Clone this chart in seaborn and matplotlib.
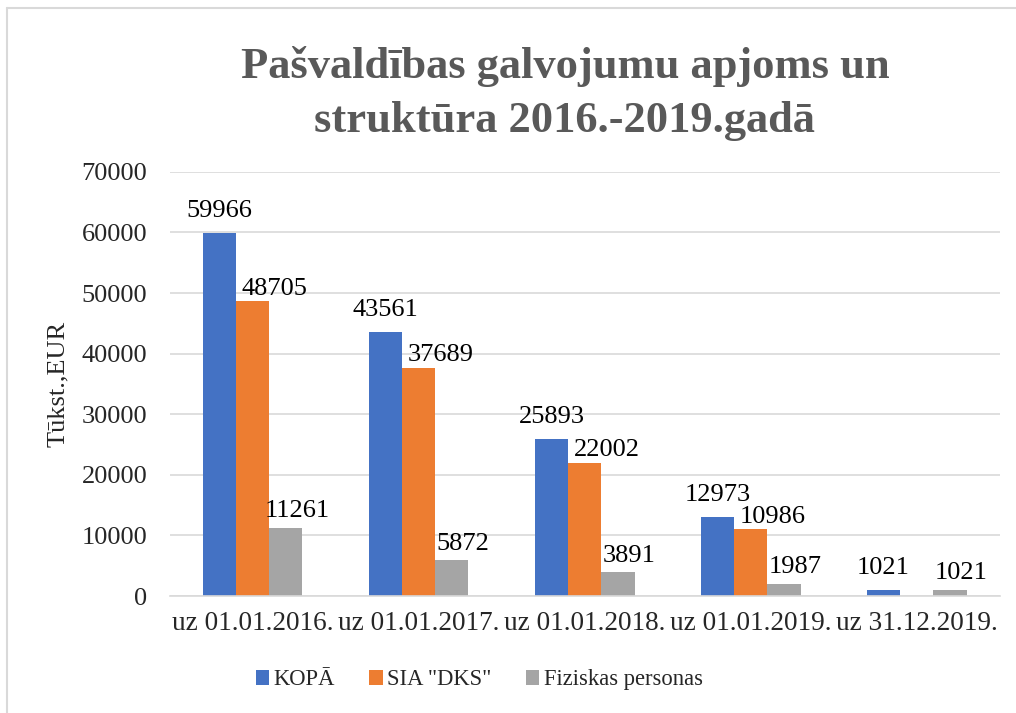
import matplotlib
matplotlib.use("Agg")
import matplotlib.pyplot as plt
import seaborn as sns
import pandas as pd
import numpy as np
from matplotlib.lines import Line2D

categories = ["uz 01.01.2016.", "uz 01.01.2017.", "uz 01.01.2018.", "uz 01.01.2019.", "uz 31.12.2019."]
series_names = ["KOPĀ", 'SIA "DKS"', "Fiziskas personas"]
kopa = [59966, 43561, 25893, 12973, 1021]
sia_dks = [48705, 37689, 22002, 10986, np.nan]
fiziskas = [11261, 5872, 3891, 1987, 1021]
colors = ["#4472C4", "#ED7D31", "#A5A5A5"]
yticks = [0, 10000, 20000, 30000, 40000, 50000, 60000, 70000]

title = "Pašvaldības galvojumu apjoms un\nstruktūra 2016.-2019.gadā"
ylabel = "Tūkst.,EUR"

rows = []
for name, vals in zip(series_names, [kopa, sia_dks, fiziskas]):
    for c, v in zip(categories, vals):
        rows.append({"cat": c, "series": name, "value": v})
df = pd.DataFrame(rows)

sns.set_theme(style="white")
plt.rcParams["font.family"] = ["Liberation Serif", "DejaVu Serif"]

fig = plt.figure(figsize=(10.16, 7.13), dpi=100)
ax = fig.add_axes([0.167, 0.164, 0.817, 0.595])

sns.barplot(data=df, x="cat", y="value", hue="series", order=categories,
            hue_order=series_names, palette=colors, width=0.6, ax=ax,
            saturation=1, errorbar=None, linewidth=0)

ax.set_ylim(0, 70000)
ax.set_yticks(yticks)
ax.set_yticklabels([str(t) for t in yticks], fontsize=19)
ax.tick_params(axis="x", labelsize=19.6, length=0, pad=11)
ax.tick_params(axis="y", length=0, pad=16)
ax.grid(axis="y", color="#D9D9D9", linewidth=1.2)
ax.set_axisbelow(True)
for s in ["top", "right", "left"]:
    ax.spines[s].set_visible(False)
ax.spines["bottom"].set_color("#D9D9D9")
ax.spines["bottom"].set_linewidth(1.2)
ax.set_xlabel("")
ax.set_ylabel(ylabel, fontsize=19, labelpad=9)
ax.set_xlim(-0.5, 4.5)

offsets = [(0, 8), (16, 1), (8, 4)]
for cont, off in zip(ax.containers, offsets):
    for bar in cont:
        h = bar.get_height()
        if np.isnan(h) or h == 0:
            continue
        ax.annotate(f"{int(round(h))}", (bar.get_x() + bar.get_width() / 2, h),
                    xytext=off, textcoords="offset points", ha="center", va="bottom",
                    fontsize=19, color="#000000")

leg = ax.legend(loc="upper center", bbox_to_anchor=(0.373, -0.125), ncol=3, frameon=False,
                fontsize=16.3, handlelength=0.6, handleheight=0.6, handletextpad=0.2,
                columnspacing=1.5)

fig.text(0.556, 0.869, title, ha="center", va="center", fontsize=32, fontweight="bold",
         color="#595959", linespacing=1.45)

fig.add_artist(Line2D([7 / 1016, 1.0], [1 - 8 / 713, 1 - 8 / 713], transform=fig.transFigure,
                      color="#D9D9D9", linewidth=1.5))
fig.add_artist(Line2D([7 / 1016, 7 / 1016], [0, 1 - 8 / 713], transform=fig.transFigure,
                      color="#D9D9D9", linewidth=1.5))

fig.savefig("out.png", dpi=100, facecolor="white")
